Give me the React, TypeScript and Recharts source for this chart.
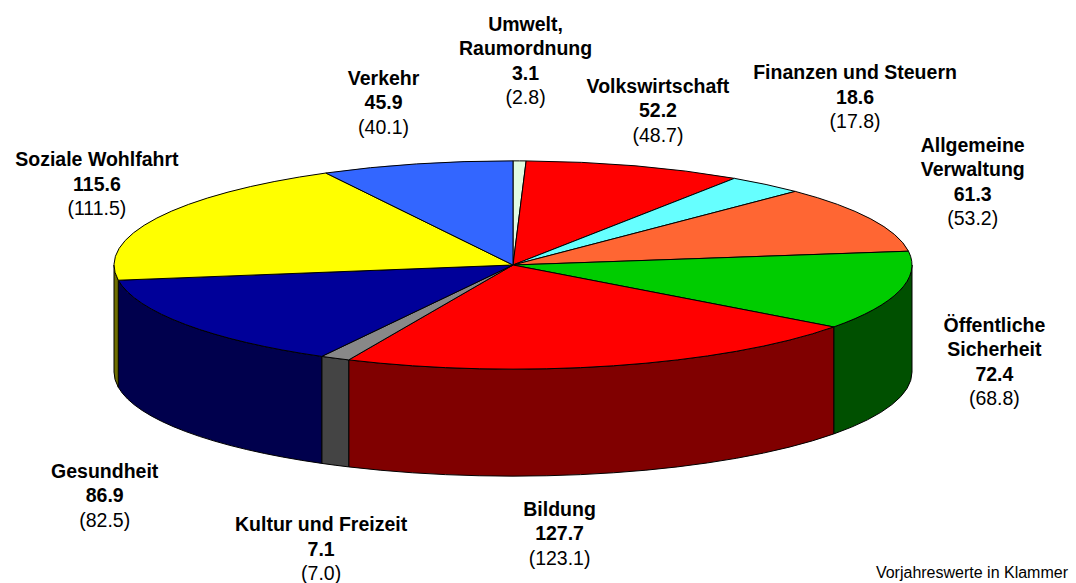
import { PieChart, Pie, Cell } from 'recharts';

const CATEGORIES = [
  'Umwelt,\nRaumordnung',
  'Volkswirtschaft',
  'Finanzen und Steuern',
  'Allgemeine\nVerwaltung',
  'Öffentliche\nSicherheit',
  'Bildung',
  'Kultur und Freizeit',
  'Gesundheit',
  'Soziale Wohlfahrt',
  'Verkehr',
];
const VALUES = [3.1, 52.2, 18.6, 61.3, 72.4, 127.7, 7.1, 86.9, 115.6, 45.9];
const PREVIOUS = [2.8, 48.7, 17.8, 53.2, 68.8, 123.1, 7.0, 82.5, 111.5, 40.1];

const TOP_COLORS = ['#E2FCE2', '#FF0000', '#66FFFF', '#FF6633', '#00CC00', '#FF0000', '#888888', '#000099', '#FFFF00', '#3366FF'];
const SIDE_COLORS = ['#707e70', '#800000', '#338080', '#80331a', '#005000', '#800000', '#444444', '#00004d', '#6e6e00', '#1a3380'];

// label anchor offsets from the rim point at each slice's middle angle
const LABEL_NUDGE = [
  [6, -130], [23, -73], [89, -105], [102, -67], [95, -66],
  [-54, 43], [-14, 66], [-81, 46], [-60, -52], [-33, -79],
];

const CX = 508;
const CY = 260;
const RADIUS = 399;
const TILT = 0.261;
const DEPTH = 107;
const FONT = '"Liberation Sans", Arial, sans-serif';

const data = CATEGORIES.map((name, i) => ({
  name,
  value: VALUES[i],
  prev: PREVIOUS[i],
  idx: i,
}));

const pt = (cx: number, cy: number, r: number, a: number, dy = 0) => {
  const rad = (a * Math.PI) / 180;
  return `${cx + r * Math.cos(rad)},${cy - r * TILT * Math.sin(rad) + dy}`;
};

const Slice3D = (props: any) => {
  const { cx, cy, outerRadius, startAngle, endAngle, payload } = props;
  const i = payload?.idx ?? props.idx ?? 0;
  const r = outerRadius;
  const ry = r * TILT;
  const a1 = Math.max(startAngle, endAngle);
  const a2 = Math.min(startAngle, endAngle);
  const large = a1 - a2 > 180 ? 1 : 0;
  const top = `M${cx},${cy} L${pt(cx, cy, r, a1)} A${r},${ry} 0 ${large} 1 ${pt(cx, cy, r, a2)} Z`;

  // front wall: the part of the slice facing the viewer (lower half of the ellipse)
  const hi = Math.min(a1, 0);
  const lo = Math.max(a2, -180);
  let wall = null;
  if (hi > lo) {
    const d =
      `M${pt(cx, cy, r, hi)} A${r},${ry} 0 0 1 ${pt(cx, cy, r, lo)} ` +
      `L${pt(cx, cy, r, lo, DEPTH)} A${r},${ry} 0 0 0 ${pt(cx, cy, r, hi, DEPTH)} Z`;
    wall = <path d={d} fill={SIDE_COLORS[i]} stroke="#000" strokeWidth={1} strokeLinejoin="round" />;
  }
  return (
    <g>
      {wall}
      <path d={top} fill={TOP_COLORS[i]} stroke="#000" strokeWidth={1} strokeLinejoin="round" />
    </g>
  );
};

const renderLabel = (props: any) => {
  const { cx, cy, outerRadius, midAngle, payload } = props;
  const i = payload?.idx ?? props.index;
  const rad = (midAngle * Math.PI) / 180;
  const sin = Math.sin(rad);
  const bx = cx + outerRadius * Math.cos(rad);
  const by = cy - outerRadius * TILT * sin + (sin < 0 ? DEPTH : 0);
  const x = bx + LABEL_NUDGE[i][0];
  const y = by + LABEL_NUDGE[i][1];
  const lines = CATEGORIES[i].split('\n');
  return (
    <text x={x} y={y} textAnchor="middle" fontFamily={FONT} fontSize={19.5} fill="#000">
      {lines.map((l, k) => (
        <tspan key={k} x={x} dy={k === 0 ? 0 : 24.5} fontWeight="bold">{l}</tspan>
      ))}
      <tspan x={x} dy={24.5} fontWeight="bold">{VALUES[i].toFixed(1)}</tspan>
      <tspan x={x} dy={24.5}>({PREVIOUS[i].toFixed(1)})</tspan>
    </text>
  );
};

export default function App() {
  return (
    <div style={{ position: 'absolute', left: 0, top: 0, width: 1076, height: 583, background: '#fff', fontFamily: FONT }}>
      <PieChart width={1076} height={583}>
        <Pie
          data={data}
          dataKey="value"
          nameKey="name"
          cx={CX}
          cy={CY}
          outerRadius={RADIUS}
          startAngle={90}
          endAngle={-270}
          stroke="#000"
          shape={Slice3D}
          activeShape={Slice3D}
          inactiveShape={Slice3D}
          label={renderLabel}
          labelLine={false}
          isAnimationActive={false}
        >
          {data.map((d, i) => (
            <Cell key={d.name} fill={TOP_COLORS[i]} />
          ))}
        </Pie>
      </PieChart>
      <div style={{ position: 'absolute', right: 8, top: 564, fontSize: 16, color: '#000', whiteSpace: 'nowrap' }}>
        Vorjahreswerte in Klammer
      </div>
    </div>
  );
}
